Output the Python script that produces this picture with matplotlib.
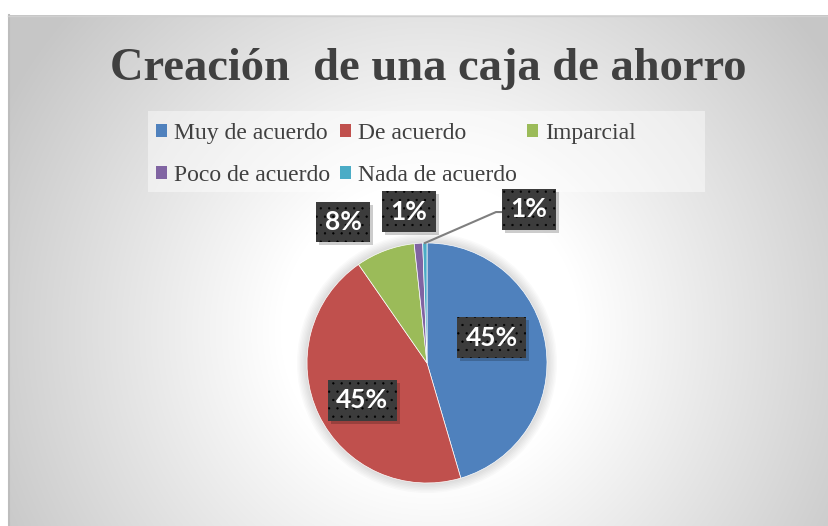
import numpy as np
import matplotlib.pyplot as plt
from matplotlib.patches import Patch, Rectangle, Circle
from matplotlib.transforms import offset_copy

# survey answers (n = 176)
categories = ["Muy de acuerdo", "De acuerdo", "Imparcial", "Poco de acuerdo", "Nada de acuerdo"]
counts = [80, 79, 14, 2, 1]
colors = ["#4F81BD", "#C0504D", "#9BBB59", "#8064A2", "#4BACC6"]
title = "Creación  de una caja de ahorro"

# where each data label box sits (pie data coords, radius = 1)
label_pos = [(0.54, 0.21), (-0.54, -0.31), (-0.70, 1.175), (-0.15, 1.26), (0.85, 1.28)]

W, H = 829, 526
plt.rcParams["font.serif"] = ["Liberation Serif", "DejaVu Serif"]
plt.rcParams["hatch.color"] = "#4b4b4b"
plt.rcParams["hatch.linewidth"] = 0.4
fig = plt.figure(figsize=(W / 100, H / 100), dpi=100)

# radial grey background of the chart area
bg = fig.add_axes([0, 0, 1, 1])
yy, xx = np.mgrid[0:H, 0:W]
dist = np.hypot(xx - 430, yy - 330)
t = np.clip((dist - 150) / 330, 0, 1)
shade = 1 - 0.22 * t
img = np.dstack([shade, shade, shade])
img[:15, :] = 1
img[:, :8] = 1
bg.imshow(img, extent=[0, W, H, 0], aspect="auto", interpolation="bilinear")
bg.set_xlim(0, W)
bg.set_ylim(H, 0)
bg.axis("off")
bg.plot([9, 9], [15, H], color="#bdbdbd", lw=1.5)
bg.plot([8, W], [15.5, 15.5], color="#d0d0d0", lw=1)
bg.add_patch(Rectangle((148, 111), 557, 81, facecolor="white", alpha=0.45, lw=0))

fig.text(428 / W, 1 - 80 / H, title, ha="center", va="baseline", fontsize=33.5,
         fontweight="bold", family="serif", color="#404040")

# pie
cx, cy, r_px = 427, 363, 120
half = 1.5 * r_px
ax = fig.add_axes([(cx - half) / W, (H - cy - half) / H, 2 * half / W, 2 * half / H])
for k in range(8):
    ax.add_patch(Circle((0, 0), 1 + 0.012 * k, facecolor="#000000", alpha=0.018, lw=0))
wedges, _ = ax.pie(counts, colors=colors, startangle=90, counterclock=False,
                   wedgeprops=dict(edgecolor="white", linewidth=0.5))
ax.set_xlim(-1.5, 1.5)
ax.set_ylim(-1.5, 1.5)
ax.set_aspect("equal")
ax.axis("off")

# leader line for the last slice
w = wedges[4]
mid = np.deg2rad((w.theta1 + w.theta2) / 2)
lx, ly = np.cos(mid), np.sin(mid)
ax.plot([lx, 0.575, 0.64], [ly, 1.258, 1.258], color="#7f7f7f", lw=1.5, zorder=3)

total = sum(counts)
shadow_tr = offset_copy(ax.transData, fig=fig, x=3, y=-3, units="dots")
for (x, y), c in zip(label_pos, counts):
    pct = f"{round(100 * c / total)}%"
    ax.text(x, y, pct, ha="center", va="center", fontsize=19, fontweight="bold",
            family="Lato", color="none", transform=shadow_tr, zorder=4,
            bbox=dict(boxstyle="square,pad=0.32", facecolor="black", alpha=0.2, linewidth=0))
    ax.text(x, y, pct, ha="center", va="center", fontsize=19, fontweight="bold",
            family="Lato", color="white", zorder=5,
            bbox=dict(boxstyle="square,pad=0.32", facecolor="#3c3c3c", hatch="..", linewidth=0))

# legend, row-major order like the original
order = [0, 3, 1, 4, 2]
handles = [Patch(facecolor=colors[i], label=categories[i]) for i in order]
fig.legend(handles=handles, loc="upper left", bbox_to_anchor=(156 / W, 1 - 123 / H),
           ncol=3, frameon=False, prop=dict(family="serif", size=17),
           labelcolor="#404040", handlelength=0.47, handleheight=0.47,
           handletextpad=0.3, columnspacing=0.42, borderpad=0, borderaxespad=0,
           labelspacing=0.9)

fig.savefig("out.png", dpi=100)
